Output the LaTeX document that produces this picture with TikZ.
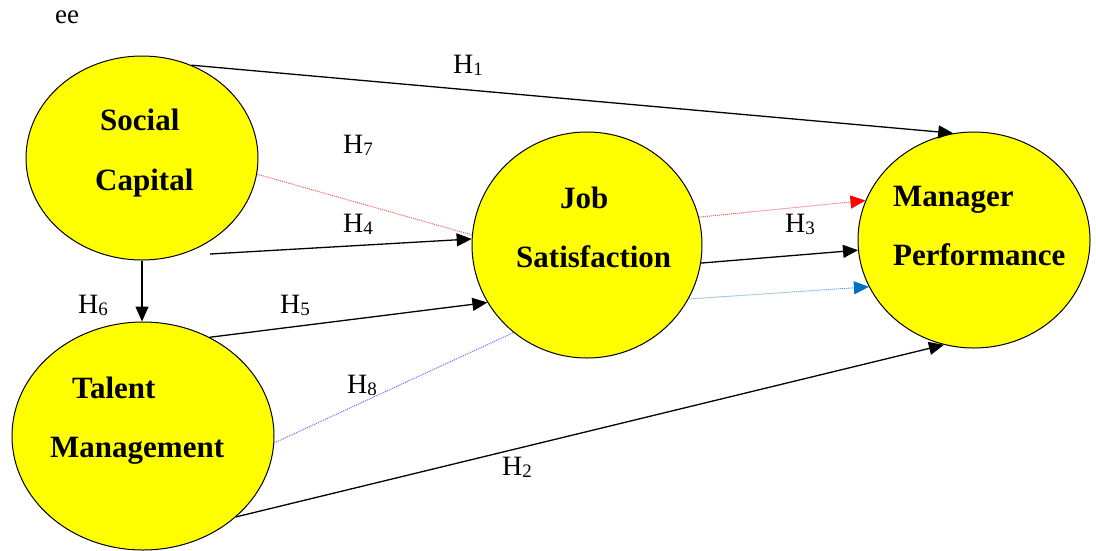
\documentclass[tikz,border=0pt]{standalone}
\usepackage{fontspec}
\setmainfont{Liberation Serif}
\usetikzlibrary{shapes.geometric,arrows.meta}
\usepackage{xcolor}
\definecolor{constructyellow}{HTML}{FFFF00}
\definecolor{dotred}{HTML}{FF5A5A}
\definecolor{dotblue}{HTML}{6A6AFF}
\definecolor{paleblue}{HTML}{5B9BD5}
\definecolor{darkblue}{HTML}{0070C0}
\newcommand{\hyplab}[1]{H\raisebox{-2pt}{\fontsize{19}{19}\selectfont #1}}
\tikzset{
  construct/.style={ellipse,draw,fill=constructyellow,line width=1pt,inner sep=0pt},
  ctext/.style={anchor=base west,inner sep=0pt,font=\bfseries\fontsize{31}{31}\selectfont},
  hyp/.style={anchor=base west,inner sep=0pt,font=\fontsize{28}{28}\selectfont},
  link/.style={line width=1.3pt,-{Triangle[length=15pt,width=13pt]}},
  dotlink/.style={line width=1pt,densely dotted}
}

\begin{document}
\begin{tikzpicture}[x=1pt,y=-1pt]
        \useasboundingbox (0,0) rectangle (1096,550);
        \node (ee) [anchor=base west,inner sep=0pt,font=\fontsize{27}{27}\selectfont] at (55,23) {ee};
        \node (sc) [construct,minimum width=232pt,minimum height=204pt] at (142,158) {};
        \node (tm) [construct,minimum width=262pt,minimum height=228pt] at (143,436) {};
        \node (js) [construct,minimum width=230pt,minimum height=226pt] at (587,245) {};
        \node (mp) [construct,minimum width=232pt,minimum height=216pt] at (974,240) {};
        \node (sc1) [ctext] at (100,130) {Social};
        \node (sc2) [ctext] at (95,190) {Capital};
        \node (tm1) [ctext] at (72,398) {Talent};
        \node (tm2) [ctext] at (50,457) {Management};
        \node (js1) [ctext] at (560,208) {Job};
        \node (js2) [ctext] at (516,267) {Satisfaction};
        \node (mp1) [ctext] at (893,206) {Manager};
        \node (mp2) [ctext] at (893,265) {Performance};
        \coordinate (h4start) at (210,254);
        \draw [link] (sc.62) -- (mp.101.6);
        \draw [dotlink,dotred] (sc.-8) -- (js.175);
        \draw [link] (h4start) -- (js.177.5);
        \draw [link] (sc.south) -- (sc.south |- tm.north);
        \draw [link] (tm.56.7) -- (js.210.4);
        \draw [dotlink,dotblue] (tm.-3) -- (js.230);
        \draw [link] (tm.-41.7) -- (mp.254.7);
        \draw [dotlink,dotred,-{Triangle[length=15pt,width=13pt,color=red]}] (js.14.9) -- (mp.160);
        \draw [link] (js.-9) -- (mp.185.4);
        \draw [dotlink,paleblue,-{Triangle[length=15pt,width=13pt,color=darkblue]}] (js.-28.6) -- (mp.204.8);
        \node (h1) [hyp] at (453,73) {\hyplab{1}};
        \node (h2) [hyp] at (502,475) {\hyplab{2}};
        \node (h3) [hyp] at (785,232) {\hyplab{3}};
        \node (h4) [hyp] at (343,232) {\hyplab{4}};
        \node (h5) [hyp] at (280,313) {\hyplab{5}};
        \node (h6) [hyp] at (78,313) {\hyplab{6}};
        \node (h7) [hyp] at (343,153) {\hyplab{7}};
        \node (h8) [hyp] at (347,393) {\hyplab{8}};
\end{tikzpicture}
\end{document}
